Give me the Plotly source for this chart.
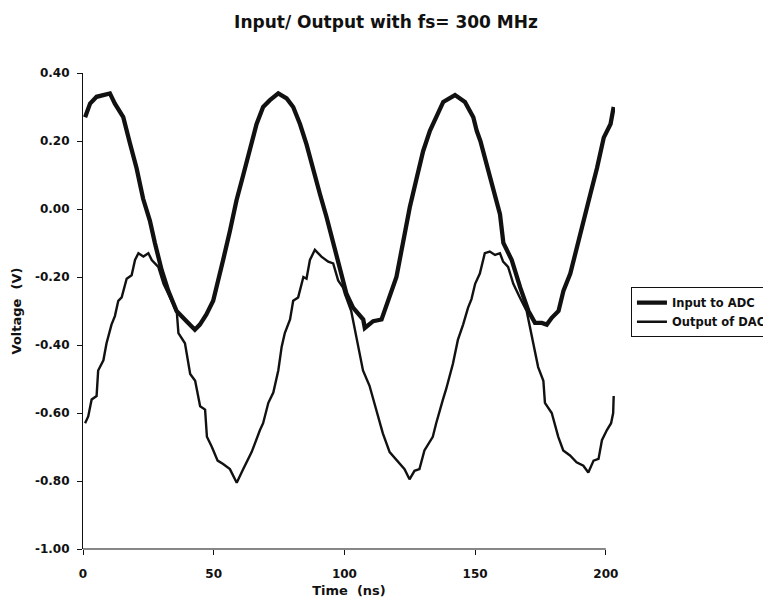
import plotly.graph_objects as go

# ---- data ----
input_time = [0.8, 2.7, 5.2, 7.8, 10.3, 12.2, 14.1, 15.4, 17.9, 20.5, 23.0, 25.6, 27.5, 30.1, 32.6,
              35.8, 39.6, 42.8, 44.7, 47.2, 49.8, 52.4, 53.6, 56.2, 58.7, 61.3, 63.8, 66.4, 68.9,
              71.5, 74.7, 77.9, 80.4, 83.0, 85.5, 88.1, 90.6, 93.2, 95.7, 98.3, 100.8, 103.3,
              107.2, 107.8, 111.0, 114.2, 117.4, 119.9, 122.5, 125.0, 127.6, 130.1, 132.7, 135.2,
              137.8, 142.3, 146.1, 149.3, 150.6, 152.0, 153.8, 156.9, 159.5, 160.8, 164.0, 167.2,
              170.4, 172.9, 175.5, 177.4, 179.3, 181.9, 183.8, 186.4, 188.9, 191.5, 194.1, 196.6,
              199.2, 201.8, 203.0]
input_volt = [0.27, 0.31, 0.33, 0.335, 0.34, 0.31, 0.285, 0.27, 0.195, 0.12, 0.03, -0.035, -0.10,
              -0.18, -0.24, -0.30, -0.33, -0.355, -0.34, -0.31, -0.27, -0.195, -0.15, -0.065, 0.025,
              0.10, 0.18, 0.25, 0.30, 0.32, 0.34, 0.325, 0.30, 0.25, 0.19, 0.11, 0.045, -0.025,
              -0.10, -0.18, -0.25, -0.29, -0.325, -0.35, -0.33, -0.325, -0.25, -0.20, -0.095, 0.005,
              0.09, 0.17, 0.23, 0.27, 0.315, 0.335, 0.315, 0.27, 0.23, 0.20, 0.15, 0.065, -0.015,
              -0.10, -0.15, -0.23, -0.30, -0.335, -0.335, -0.34, -0.32, -0.30, -0.24, -0.19, -0.11,
              -0.035, 0.045, 0.12, 0.21, 0.25, 0.30]

output_time = [0.8, 2.0, 3.3, 5.2, 5.8, 7.8, 9.0, 10.9, 12.2, 13.5, 14.8, 16.7, 18.6, 19.9, 21.2,
               23.1, 25.0, 26.3, 28.8, 30.8, 33.3, 35.9, 36.5, 39.0, 41.0, 42.9, 44.8, 46.7, 47.4,
               49.3, 51.5, 53.6, 56.2, 58.8, 61.3, 64.5, 67.7, 68.9, 70.9, 72.8, 74.7, 76.0, 77.2,
               79.2, 80.4, 82.3, 84.3, 85.5, 86.8, 88.7, 91.2, 93.8, 95.7, 97.6, 99.4, 100.2, 102.6,
               104.5, 107.1, 109.6, 112.2, 114.7, 117.3, 120.5, 123.0, 124.9, 126.8, 128.7, 130.6,
               133.8, 135.1, 137.7, 138.9, 141.5, 143.4, 145.4, 147.3, 148.6, 150.0, 151.8, 153.7,
               155.6, 157.6, 159.5, 160.7, 162.6, 164.6, 167.1, 169.7, 170.9, 172.2, 174.1, 176.1,
               176.7, 179.3, 181.8, 183.7, 186.3, 188.8, 191.4, 193.3, 195.3, 197.2, 198.5, 200.4,
               202.0, 202.8, 203.0]
output_volt = [-0.63, -0.61, -0.56, -0.55, -0.475, -0.445, -0.395, -0.34, -0.315, -0.27, -0.26,
               -0.205, -0.195, -0.15, -0.13, -0.14, -0.13, -0.15, -0.17, -0.22, -0.26, -0.305,
               -0.365, -0.395, -0.485, -0.505, -0.58, -0.59, -0.67, -0.70, -0.74, -0.75, -0.765,
               -0.805, -0.765, -0.715, -0.65, -0.63, -0.57, -0.54, -0.475, -0.405, -0.365, -0.325,
               -0.27, -0.26, -0.20, -0.205, -0.15, -0.12, -0.14, -0.155, -0.16, -0.21, -0.23, -0.25,
               -0.30, -0.375, -0.475, -0.52, -0.59, -0.66, -0.715, -0.745, -0.765, -0.795, -0.77,
               -0.765, -0.71, -0.67, -0.63, -0.56, -0.53, -0.455, -0.385, -0.34, -0.29, -0.265,
               -0.22, -0.19, -0.13, -0.125, -0.135, -0.13, -0.155, -0.17, -0.22, -0.26, -0.30,
               -0.345, -0.395, -0.465, -0.505, -0.57, -0.60, -0.67, -0.71, -0.725, -0.745, -0.755,
               -0.775, -0.74, -0.735, -0.68, -0.65, -0.63, -0.60, -0.55]

x_tick_vals = [0, 50, 100, 150, 200]
x_tick_text = ["0", "50", "100", "150", "200"]
y_tick_vals = [0.40, 0.20, 0.00, -0.20, -0.40, -0.60, -0.80, -1.00]
y_tick_text = ["0.40", "0.20", "0.00", "-0.20", "-0.40", "-0.60", "-0.80", "-1.00"]

FONT = "DejaVu Sans"
INK = "#111111"

# the page adds an 8px body margin, so the figure is 8px smaller than the window
W, H = 763, 593

fig = go.Figure()
fig.add_trace(go.Scatter(x=input_time, y=input_volt, mode="lines", name="Input to ADC",
                         line=dict(color=INK, width=4.3)))
fig.add_trace(go.Scatter(x=output_time, y=output_volt, mode="lines", name="Output of DAC",
                         line=dict(color=INK, width=2.4)))

# x-axis baseline only up to the last tick
fig.add_shape(type="line", xref="x", yref="paper", x0=x_tick_vals[0], x1=x_tick_vals[-1],
              y0=0, y1=0, line=dict(color=INK, width=1.2))

fig.update_layout(
    width=W, height=H,
    margin=dict(l=75, r=156, t=65, b=52, autoexpand=False),
    paper_bgcolor="white", plot_bgcolor="white",
    font=dict(family=FONT, color=INK, size=12, weight="bold"),
    title=dict(text="Input/ Output with fs= 300 MHz", x=378 / W, xref="container", xanchor="center",
               y=1 - 14 / H, yref="container", yanchor="middle",
               font=dict(family=FONT, size=17, weight="bold", color=INK)),
    showlegend=True,
    legend=dict(x=1.030, xanchor="left", y=0.55, yanchor="top",
                bordercolor=INK, borderwidth=1, bgcolor="white",
                font=dict(family=FONT, size=11.5, weight="bold", color=INK),
                tracegroupgap=0),
    xaxis=dict(range=[0, 203.5], tickmode="array", tickvals=x_tick_vals, ticktext=x_tick_text,
               showgrid=False, zeroline=False, showline=False, ticks="outside", ticklen=5,
               tickcolor=INK, ticklabelstandoff=9,
               tickfont=dict(family=FONT, size=12, weight="bold", color=INK),
               title=dict(text="Time\u00a0 (ns)", standoff=5,
                          font=dict(family=FONT, size=13, weight="bold", color=INK))),
    yaxis=dict(range=[-1.0, 0.40], tickmode="array", tickvals=y_tick_vals, ticktext=y_tick_text,
               showgrid=False, zeroline=False, showline=True, linecolor=INK, linewidth=1.2,
               ticks="outside", ticklen=5, tickcolor=INK, ticklabelstandoff=5,
               tickfont=dict(family=FONT, size=12, weight="bold", color=INK),
               title=dict(text="Voltage\u00a0 (V)", standoff=10,
                          font=dict(family=FONT, size=13, weight="bold", color=INK))),
)

fig.write_html("out.html")
